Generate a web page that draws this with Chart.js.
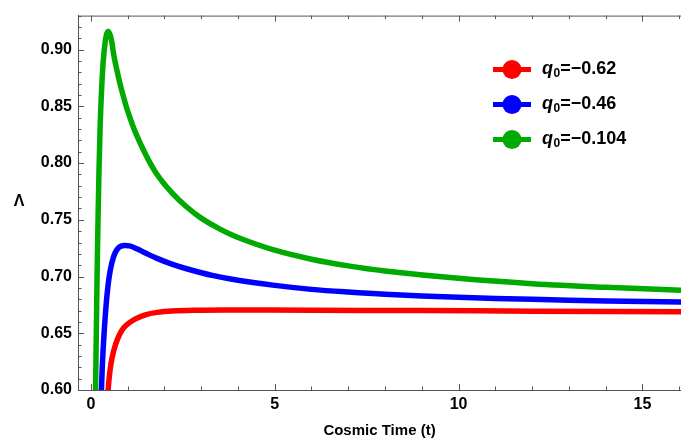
<!DOCTYPE html>
<html>
<head>
<meta charset="utf-8">
<script src="https://cdn.jsdelivr.net/npm/chart.js@4/dist/chart.umd.min.js"></script>
<style>
  body { margin: 0; background: #fff; }
  canvas { display: block; }
</style>
</head>
<body>
<canvas id="grafico" width="681" height="444"></canvas>
<script>
// valores
const tRed = [0.43, 0.47, 0.52, 0.58, 0.67, 0.78, 0.9, 1.03, 1.2, 1.48, 1.8, 2.2, 2.8, 3.75, 6, 9, 12, 16.1];
const lambdaRed = [0.57, 0.60, 0.617, 0.629, 0.640, 0.649, 0.655, 0.659, 0.6625, 0.6663, 0.6684, 0.6697, 0.6704, 0.6706, 0.6703, 0.670, 0.6695, 0.669];

const tBlue = [0.27, 0.31, 0.36, 0.42, 0.49, 0.57, 0.66, 0.77, 0.9, 1.05, 1.25, 1.5, 1.8, 2.2, 2.7, 3.3, 4.0, 5.0, 6.0, 7.0, 8.0, 10, 12, 14, 16.1];
const lambdaBlue = [0.58, 0.62, 0.65, 0.677, 0.698, 0.712, 0.721, 0.726, 0.7274, 0.727, 0.7245, 0.7205, 0.716, 0.711, 0.706, 0.701, 0.6967, 0.6922, 0.6887, 0.6863, 0.6844, 0.6817, 0.6799, 0.6785, 0.6775];

const tGreen = [0.12, 0.16, 0.2, 0.25, 0.3, 0.35, 0.41, 0.47, 0.55, 0.62, 0.7, 0.8, 0.9, 1.0, 1.2, 1.5, 1.8, 2.2, 2.6, 3.0, 3.5, 4.0, 5.0, 6.0, 7.0, 8.0, 10, 12, 14, 16.1];
const lambdaGreen = [0.58, 0.68, 0.76, 0.83, 0.87, 0.895, 0.911, 0.916, 0.910, 0.896, 0.883, 0.869, 0.857, 0.846, 0.828, 0.807, 0.790, 0.774, 0.7615, 0.7515, 0.742, 0.7344, 0.7232, 0.7153, 0.7094, 0.7049, 0.6984, 0.6937, 0.6905, 0.6879];

const q0Values = ['\u22120.62', '\u22120.46', '\u22120.104'];
const colors = ['#ff0000', '#0000ff', '#00aa00'];
const xTicks = [0, 5, 10, 15];
const yTicks = [0.60, 0.65, 0.70, 0.75, 0.80, 0.85, 0.90];

function pares(xs, ys) {
  return xs.map((x, i) => ({ x: x, y: ys[i] }));
}

const series = [pares(tRed, lambdaRed), pares(tBlue, lambdaBlue), pares(tGreen, lambdaGreen)];

// moldura estilo Mathematica: marcas internas, legenda e rótulo do eixo y
const moldura = {
  id: 'moldura',
  afterDraw(chart) {
    const { ctx, chartArea: a, scales: { x, y } } = chart;
    ctx.save();
    ctx.strokeStyle = '#555';
    ctx.lineWidth = 1;
    ctx.beginPath();
    ctx.moveTo(a.left, a.top + 0.5);
    ctx.lineTo(a.right, a.top + 0.5);
    for (let t = 0; t <= 16; t++) {
      const px = Math.round(x.getPixelForValue(t)) + 0.5;
      const len = t % 5 === 0 ? 6 : 3.5;
      ctx.moveTo(px, a.bottom);
      ctx.lineTo(px, a.bottom - len);
      ctx.moveTo(px, a.top);
      ctx.lineTo(px, a.top + len);
    }
    for (let k = 60; k <= 93; k++) {
      const py = Math.round(y.getPixelForValue(k / 100)) + 0.5;
      const len = k % 5 === 0 ? 6 : 3.5;
      ctx.moveTo(a.left, py);
      ctx.lineTo(a.left + len, py);
    }
    ctx.stroke();

    // rótulo do eixo y
    ctx.fillStyle = '#000';
    ctx.font = 'bold 16px "Liberation Sans", Arial, sans-serif';
    ctx.textAlign = 'center';
    ctx.textBaseline = 'middle';
    ctx.fillText('\u039B', 19, 202);

    // legenda
    ctx.textAlign = 'left';
    q0Values.forEach((q, i) => {
      const ly = 69.5 + i * 35;
      ctx.strokeStyle = colors[i];
      ctx.lineWidth = 5;
      ctx.beginPath();
      ctx.moveTo(493, ly);
      ctx.lineTo(531, ly);
      ctx.stroke();
      ctx.fillStyle = colors[i];
      ctx.beginPath();
      ctx.arc(512, ly, 9.5, 0, Math.PI * 2);
      ctx.fill();

      ctx.fillStyle = '#000';
      let tx = 542;
      ctx.font = 'italic bold 18px "Liberation Sans", Arial, sans-serif';
      ctx.fillText('q', tx, ly);
      tx += ctx.measureText('q').width + 0.5;
      ctx.font = 'bold 12px "Liberation Sans", Arial, sans-serif';
      ctx.fillText('0', tx, ly + 4);
      tx += ctx.measureText('0').width;
      ctx.font = 'bold 18px "Liberation Sans", Arial, sans-serif';
      ctx.fillText('=' + q, tx, ly);
    });
    ctx.restore();
  }
};

new Chart(document.getElementById('grafico'), {
  type: 'line',
  data: {
    datasets: series.map((s, i) => ({
      data: s,
      borderColor: colors[i],
      borderWidth: 5.5,
      pointRadius: 0,
      tension: 0.35,
      fill: false
    }))
  },
  options: {
    responsive: false,
    animation: false,
    layout: { padding: { top: 11, right: 0, left: 0, bottom: 0 } },
    plugins: {
      legend: { display: false },
      tooltip: { enabled: false }
    },
    scales: {
      x: {
        type: 'linear',
        min: -0.35,
        max: 16.05,
        afterFit: scale => { scale.height = 54; },
        afterBuildTicks: scale => { scale.ticks = xTicks.map(v => ({ value: v })); },
        grid: { display: false, drawTicks: false },
        border: { display: true, color: '#555', width: 1 },
        ticks: {
          padding: 5,
          color: '#000',
          font: { family: '"Liberation Sans", Arial, sans-serif', size: 16, weight: 'bold' },
          maxRotation: 0
        },
        title: {
          display: true,
          text: 'Cosmic Time (t)',
          color: '#000',
          padding: { top: 4, bottom: 4 },
          font: { family: '"Liberation Sans", Arial, sans-serif', size: 15, weight: 'bold' }
        }
      },
      y: {
        type: 'linear',
        min: 0.60,
        max: 0.93,
        afterFit: scale => { scale.width = 78; },
        afterBuildTicks: scale => { scale.ticks = yTicks.map(v => ({ value: v })); },
        grid: { display: false, drawTicks: false },
        border: { display: true, color: '#555', width: 1 },
        ticks: {
          padding: 6,
          color: '#000',
          callback: v => v.toFixed(2),
          font: { family: '"Liberation Sans", Arial, sans-serif', size: 16, weight: 'bold' }
        }
      }
    }
  },
  plugins: [moldura]
});
</script>
</body>
</html>
